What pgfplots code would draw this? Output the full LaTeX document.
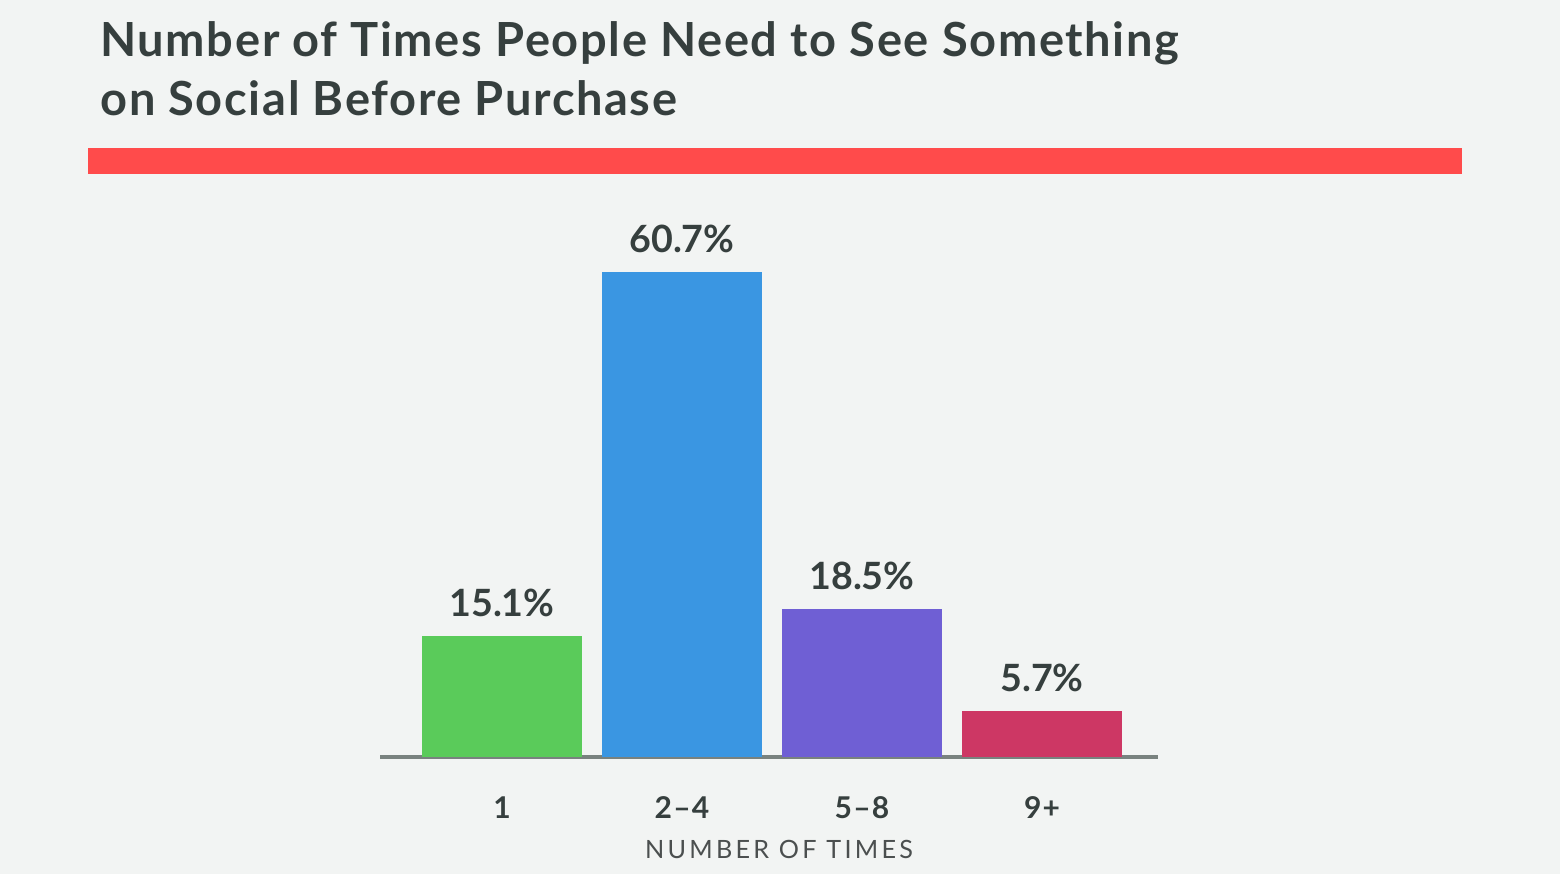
\documentclass[border=0pt]{standalone}
\usepackage{fontspec}
\setmainfont{Lato}
\usepackage{pgfplots}
\pgfplotsset{compat=1.18}
\definecolor{bgc}{HTML}{F2F4F3}
\definecolor{txt}{HTML}{363F3E}
\definecolor{redbar}{HTML}{FF4B4B}
\definecolor{cgreen}{HTML}{5ACB5A}
\definecolor{cblue}{HTML}{3A96E2}
\definecolor{cpurple}{HTML}{6F5FD4}
\definecolor{ccrimson}{HTML}{CD3764}
\definecolor{axc}{HTML}{79827F}
\definecolor{lblc}{HTML}{4B4F4F}
\begin{document}
\begin{tikzpicture}
\path[use as bounding box] (0,0) rectangle (780pt,437pt);
\fill[bgc] (0,0) rectangle (780pt,437pt);
\node[anchor=base west,inner sep=0,text=txt,font=\fontsize{23.5pt}{26pt}\selectfont\bfseries\addfontfeature{LetterSpace=3.5}] at (50pt,408.5pt) {Number of Times People Need to See Something};
\node[anchor=base west,inner sep=0,text=txt,font=\fontsize{23.5pt}{26pt}\selectfont\bfseries\addfontfeature{LetterSpace=3.5}] at (50pt,379pt) {on Social Before Purchase};
\fill[redbar] (44pt,350pt) rectangle (731pt,363pt);
\begin{axis}[
  at={(190pt,58.5pt)}, anchor=south west,
  scale only axis, width=389pt, height=279.65pt,
  xmin=-0.6778, xmax=3.6444, ymin=0, ymax=70,
  axis y line=none,
  axis x line*=bottom,
  x axis line style={-, draw=axc, line width=1.75pt},
  xtick={0,1,2,3},
  xticklabels={1,2--4,5--8,9+},
  major tick length=0pt,
  xticklabel style={anchor=base, yshift=-30.5pt, text=txt, font=\fontsize{15pt}{18pt}\selectfont\bfseries\addfontfeature{LetterSpace=4}},
  xlabel={\addfontfeature{LetterSpace=13}NUMBER OF TIMES},
  xlabel style={at={(axis description cs:0.5,0)}, anchor=base, yshift=-50.5pt, xshift=5pt, text=lblc, font=\fontsize{12.6pt}{15pt}\selectfont},
  ybar, bar width=0.8889, bar shift=0pt,
  /pgf/number format/assume math mode=true,
  nodes near coords={\pgfmathprintnumber[fixed,fixed zerofill,precision=1]{\pgfplotspointmeta}\%},
  nodes near coords style={anchor=base, yshift=10pt, text=txt, font=\fontsize{18.8pt}{22pt}\selectfont\bfseries},
  point meta=y,
]
\addplot[draw=none, fill=cgreen] coordinates {(0,15.1)};
\addplot[draw=none, fill=cblue] coordinates {(1,60.7)};
\addplot[draw=none, fill=cpurple] coordinates {(2,18.5)};
\addplot[draw=none, fill=ccrimson] coordinates {(3,5.7)};
\end{axis}
\end{tikzpicture}
\end{document}
